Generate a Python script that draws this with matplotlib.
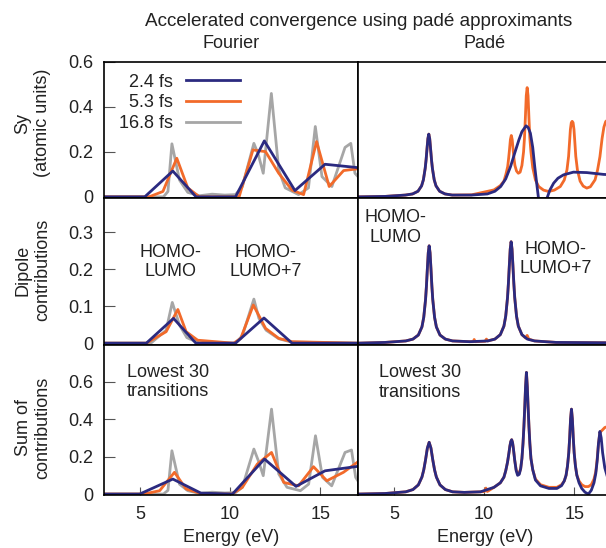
import matplotlib
matplotlib.use("Agg")
import matplotlib.pyplot as plt

plt.rcParams['font.family'] = ['Liberation Sans', 'DejaVu Sans']
plt.rcParams['font.size'] = 13

NAVY = '#2b2a80'
ORANGE = '#f26a2a'
GREY = '#a6a6a6'
TXT = '#222222'

# ---- Fourier, Sy ----
f_sy_e_24 = [3.0, 5.26, 6.82, 8.11, 10.3, 11.9, 13.6, 15.27, 17.1]
f_sy_v_24 = [0, 0, 0.115, 0, 0, 0.249, 0.028, 0.145, 0.13]
f_sy_e_53 = [3.0, 5.5, 6.27, 7.04, 7.65, 8.3, 10.5, 11.27, 11.97, 12.7, 13.44,
             14.08, 14.8, 15.5, 16.3, 17.1]
f_sy_v_53 = [0, 0, 0.024, 0.172, 0.04, 0, 0, 0.209, 0.201, 0.105, 0.03,
             0.01, 0.246, 0.046, 0.117, 0.125]
f_sy_e_168 = [3.0, 6.3, 6.55, 6.77, 7.19, 7.65, 8.3, 9.0, 9.7, 10.3, 10.68, 11.32,
              11.56, 11.84, 12.29, 12.7, 13.06, 13.8, 14.35, 14.73, 15.1, 15.65,
              16.38, 16.7, 16.93, 17.1]
f_sy_v_168 = [0, 0, 0.024, 0.236, 0.075, 0.02, 0.005, 0.012, 0.008, 0.01, 0.046, 0.238,
              0.19, 0.105, 0.46, 0.12, 0.04, 0.01, 0.04, 0.313, 0.09, 0.046,
              0.22, 0.238, 0.105, 0.09]

# ---- Pade, Sy ----
p_sy_e_24 = [3.0, 4.5, 5.63, 6.03, 6.33, 6.53, 6.63, 6.73, 6.78, 6.83, 6.88, 6.93, 6.98,
             7.03, 7.08, 7.13, 7.23, 7.33, 7.53, 7.83, 8.23, 9.3, 10.18, 10.6, 10.92, 11.2,
             11.47, 11.7, 11.93, 12.1, 12.33, 12.45, 12.57, 12.7, 12.81, 12.92, 13.03,
             13.25, 13.46, 13.65, 13.86, 14.1, 14.41, 14.96, 15.7, 16.62, 17.1]
p_sy_v_24 = [0, 0.002, 0.008, 0.013, 0.025, 0.049, 0.076, 0.127, 0.165, 0.213, 0.259, 0.279, 0.259,
             0.213, 0.165, 0.127, 0.076, 0.049, 0.025, 0.013, 0.008, 0.008, 0.013, 0.025, 0.046, 0.08,
             0.135, 0.195, 0.253, 0.29, 0.316, 0.308, 0.283, 0.22, 0.135, 0.06, -0.013,
             -0.06, -0.013, 0.03, 0.061, 0.083, 0.098, 0.11, 0.108, 0.10, 0.098]
p_sy_e_53 = [3.0, 4.5, 5.63, 6.03, 6.33, 6.53, 6.63, 6.73, 6.78, 6.83, 6.88, 6.93, 6.98,
             7.03, 7.08, 7.13, 7.23, 7.33, 7.53, 7.83, 8.23, 9.3, 10.55, 10.9, 11.1, 11.21,
             11.31, 11.36, 11.41, 11.46, 11.51, 11.56, 11.61, 11.66, 11.71, 11.8, 11.9, 12.0,
             12.1, 12.19, 12.24, 12.29, 12.34, 12.39, 12.44, 12.49, 12.54, 12.6, 12.7, 12.85,
             13.03, 13.3, 13.58, 13.9, 14.23, 14.45, 14.6, 14.69, 14.74, 14.79, 14.84, 14.89,
             14.94, 14.99, 15.04, 15.09, 15.18, 15.33, 15.5, 15.7, 15.9, 16.16, 16.3, 16.43,
             16.55, 16.65, 16.75, 16.9, 17.1]
p_sy_v_53 = [0, 0.002, 0.008, 0.013, 0.025, 0.049, 0.076, 0.127, 0.165, 0.213, 0.259, 0.279, 0.259,
             0.213, 0.165, 0.127, 0.076, 0.049, 0.025, 0.013, 0.008, 0.009, 0.031, 0.05, 0.07, 0.1,
             0.135, 0.17, 0.21, 0.255, 0.273, 0.255, 0.21, 0.17, 0.14, 0.115, 0.105, 0.11,
             0.14, 0.2, 0.26, 0.35, 0.45, 0.486, 0.45, 0.35, 0.26, 0.2, 0.13, 0.075,
             0.046, 0.03, 0.024, 0.03, 0.046, 0.075, 0.12, 0.18, 0.24, 0.3, 0.33, 0.336,
             0.33, 0.3, 0.24, 0.18, 0.12, 0.07, 0.048, 0.039, 0.045, 0.076, 0.12, 0.179,
             0.26, 0.31, 0.335, 0.345, 0.34]

# ---- Fourier, dipole contributions ----
f_dp_e_24 = [3.0, 5.35, 6.86, 8.1, 10.3, 11.88, 13.44, 17.1]
f_dp_v_24 = [0, 0, 0.067, 0, 0, 0.068, 0, 0]
f_dp_e_53 = [3.0, 5.35, 6.45, 7.1, 7.56, 8.2, 10.2, 10.59, 11.29, 11.97, 12.7, 13.44, 17.1]
f_dp_v_53 = [0, 0, 0.031, 0.091, 0.031, 0.008, 0, 0.013, 0.103, 0.04, 0.013, 0.004, 0]
f_dp_e_168 = [3.0, 5.6, 6.45, 6.79, 7.19, 7.6, 8.3, 10.3, 10.68, 11.32, 11.6, 12.0, 12.7, 13.4, 17.1]
f_dp_v_168 = [0, 0, 0.035, 0.11, 0.049, 0.015, 0, 0, 0.02, 0.119, 0.067, 0.035, 0.012, 0.003, 0]

# ---- Pade, dipole contributions ----
p_dp_e_24 = [3.0, 4.5, 5.65, 6.05, 6.35, 6.55, 6.65, 6.75, 6.8, 6.85, 6.9, 6.95, 7.0, 7.05,
             7.1, 7.15, 7.25, 7.35, 7.55, 7.85, 8.25, 9.2, 10.2, 10.6, 10.9, 11.1, 11.2, 11.3,
             11.35, 11.4, 11.45, 11.5, 11.55, 11.6, 11.65, 11.7, 11.8, 11.9, 12.1, 12.4, 12.8,
             14.0, 17.1]
p_dp_v_24 = [0, 0.002, 0.006, 0.011, 0.022, 0.044, 0.07, 0.118, 0.155, 0.201, 0.244, 0.263, 0.244, 0.201,
             0.155, 0.118, 0.07, 0.044, 0.022, 0.011, 0.006, 0.004, 0.006, 0.011, 0.023, 0.046, 0.073, 0.123,
             0.162, 0.209, 0.254, 0.274, 0.254, 0.209, 0.162, 0.123, 0.073, 0.046, 0.023, 0.011, 0.006,
             0.002, 0.001]
p_dp_e_53 = [3.0, 4.5, 5.65, 6.05, 6.35, 6.55, 6.65, 6.75, 6.8, 6.85, 6.9, 6.95, 7.0, 7.05,
             7.1, 7.15, 7.25, 7.35, 7.55, 7.85, 8.25, 9.2, 9.4, 9.45, 9.5, 10.05, 10.13, 10.2,
             10.6, 10.9, 11.1, 11.2, 11.3, 11.35, 11.4, 11.45, 11.5, 11.55, 11.6, 11.65, 11.7,
             11.8, 11.9, 12.1, 12.3, 12.39, 12.48, 12.8, 14.0, 17.1]
p_dp_v_53 = [0, 0.002, 0.006, 0.011, 0.022, 0.044, 0.07, 0.118, 0.155, 0.201, 0.244, 0.263, 0.244, 0.201,
             0.155, 0.118, 0.07, 0.044, 0.022, 0.011, 0.006, 0.004, 0.004, 0.01, 0.004, 0.005, 0.011, 0.006,
             0.011, 0.023, 0.046, 0.073, 0.123, 0.162, 0.209, 0.254, 0.274, 0.254, 0.209, 0.162, 0.123,
             0.073, 0.046, 0.023, 0.014, 0.021, 0.011, 0.006, 0.002, 0.001]

# ---- Fourier, sum of contributions ----
f_sm_e_24 = [3.0, 4.98, 6.82, 8.38, 10.13, 11.91, 13.66, 15.27, 17.1]
f_sm_v_24 = [0, 0, 0.08, 0.005, 0, 0.187, 0.041, 0.124, 0.148]
f_sm_e_53 = [3.0, 5.2, 6.09, 6.91, 7.56, 8.48, 10.1, 10.68, 11.51, 12.3, 12.98, 13.8,
             14.63, 15.37, 16.29, 17.1]
f_sm_v_53 = [0, 0, 0.018, 0.116, 0.027, 0, 0, 0.036, 0.16, 0.222, 0.062, 0.044,
             0.146, 0.071, 0.116, 0.172]
f_sm_e_168 = [3.0, 6.3, 6.55, 6.77, 7.19, 7.65, 8.3, 9.0, 9.7, 10.3, 10.68, 11.32, 11.56,
              11.84, 12.3, 12.7, 13.16, 13.9, 14.36, 14.74, 15.13, 15.64, 16.38, 16.74,
              16.97, 17.1]
f_sm_v_168 = [0, 0, 0.02, 0.231, 0.053, 0.018, 0.004, 0.01, 0.006, 0.008, 0.036, 0.24, 0.18,
              0.098, 0.453, 0.107, 0.036, 0.018, 0.053, 0.311, 0.089, 0.044, 0.222, 0.235,
              0.089, 0.07]

# ---- Pade, sum of contributions ----
p_sm_e_24 = [3.0, 4.5, 5.65, 6.05, 6.35, 6.55, 6.65, 6.75, 6.85, 6.95, 7.05, 7.15, 7.25, 7.35,
             7.55, 7.85, 8.25, 8.9, 9.8, 10.55, 10.9, 11.1, 11.2, 11.3, 11.38, 11.43, 11.48,
             11.53, 11.58, 11.63, 11.7, 11.78, 11.86, 11.95, 12.03, 12.1, 12.16, 12.21, 12.26,
             12.3, 12.35, 12.4, 12.44, 12.49, 12.54, 12.6, 12.7, 12.85, 13.13, 13.6, 14.04,
             14.3, 14.45, 14.55, 14.63, 14.7, 14.75, 14.8, 14.85, 14.9, 14.95, 15.0, 15.07,
             15.15, 15.27, 15.42, 15.6, 15.79, 15.95, 16.1, 16.2, 16.28, 16.35, 16.43, 16.5,
             16.58, 16.7, 16.85, 17.1]
p_sm_v_24 = [0, 0.003, 0.012, 0.024, 0.049, 0.091, 0.129, 0.183, 0.245, 0.276, 0.245, 0.183, 0.129, 0.091,
             0.049, 0.024, 0.012, 0.009, 0.012, 0.036, 0.06, 0.09, 0.124, 0.17, 0.22, 0.255, 0.28,
             0.29, 0.275, 0.24, 0.18, 0.125, 0.1, 0.105, 0.135, 0.19, 0.27, 0.36, 0.47,
             0.57, 0.649, 0.57, 0.47, 0.36, 0.27, 0.19, 0.13, 0.075, 0.044, 0.03, 0.03,
             0.045, 0.07, 0.1, 0.15, 0.22, 0.3, 0.4, 0.453, 0.4, 0.3, 0.22, 0.15,
             0.1, 0.06, 0.03, 0.01, 0.0, 0.02, 0.06, 0.11, 0.18, 0.27, 0.334, 0.3,
             0.22, 0.14, 0.09, 0.05]
p_sm_e_53 = [3.0, 4.5, 5.65, 6.05, 6.35, 6.55, 6.65, 6.75, 6.85, 6.95, 7.05, 7.15, 7.25, 7.35,
             7.55, 7.85, 8.25, 8.9, 9.8, 10.02, 10.1, 10.18, 10.55, 10.9, 11.1, 11.2, 11.3, 11.38,
             11.43, 11.48, 11.53, 11.58, 11.63, 11.7, 11.78, 11.86, 11.95, 12.03, 12.1, 12.16,
             12.21, 12.26, 12.3, 12.35, 12.4, 12.44, 12.49, 12.54, 12.6, 12.7, 12.85, 13.13,
             13.6, 14.04, 14.3, 14.45, 14.55, 14.63, 14.7, 14.75, 14.8, 14.85, 14.9, 14.95,
             15.0, 15.07, 15.15, 15.27, 15.42, 15.6, 15.79, 15.95, 16.1, 16.2, 16.28, 16.35,
             16.43, 16.55, 16.7, 16.85, 17.1]
p_sm_v_53 = [0, 0.003, 0.012, 0.024, 0.049, 0.091, 0.129, 0.183, 0.245, 0.276, 0.245, 0.183, 0.129, 0.091,
             0.049, 0.024, 0.012, 0.009, 0.012, 0.014, 0.032, 0.014, 0.036, 0.06, 0.09, 0.124, 0.17, 0.22,
             0.255, 0.28, 0.29, 0.275, 0.24, 0.18, 0.13, 0.112, 0.112, 0.135, 0.19, 0.27,
             0.36, 0.47, 0.57, 0.649, 0.57, 0.47, 0.36, 0.27, 0.19, 0.13, 0.08, 0.05,
             0.036, 0.036, 0.05, 0.07, 0.1, 0.15, 0.22, 0.3, 0.4, 0.453, 0.4, 0.3,
             0.22, 0.15, 0.1, 0.07, 0.05, 0.04, 0.04, 0.05, 0.08, 0.12, 0.19, 0.27,
             0.33, 0.34, 0.355, 0.36, 0.34]

panels = [
    # (fourier curves, pade curves)
    ([(f_sy_e_168, f_sy_v_168), (f_sy_e_53, f_sy_v_53), (f_sy_e_24, f_sy_v_24)],
     [None, (p_sy_e_53, p_sy_v_53), (p_sy_e_24, p_sy_v_24)]),
    ([(f_dp_e_168, f_dp_v_168), (f_dp_e_53, f_dp_v_53), (f_dp_e_24, f_dp_v_24)],
     [None, (p_dp_e_53, p_dp_v_53), (p_dp_e_24, p_dp_v_24)]),
    ([(f_sm_e_168, f_sm_v_168), (f_sm_e_53, f_sm_v_53), (f_sm_e_24, f_sm_v_24)],
     [None, (p_sm_e_53, p_sm_v_53), (p_sm_e_24, p_sm_v_24)]),
]
labels = ['16.8 fs', '5.3 fs', '2.4 fs']
colors = [GREY, ORANGE, NAVY]

ylims = [(-0.005, 0.6), (-0.005, 0.392), (-0.005, 0.795)]
yticks = [[0, 0.2, 0.4, 0.6], [0, 0.1, 0.2, 0.3], [0, 0.2, 0.4, 0.6]]
yticklabels = [['0', '0.2', '0.4', '0.6'], ['0', '0.1', '0.2', '0.3'], ['0', '0.2', '0.4', '0.6']]
row_pos = [(0.6387, 0.2482), (0.3704, 0.2682), (0.0967, 0.2737)]
col_x = [104 / 606, 358 / 606]
col_w = 254 / 606

fig = plt.figure(figsize=(6.06, 5.48), dpi=100)
axes = []
for r in range(3):
    row_axes = []
    for c in range(2):
        ax = fig.add_axes([col_x[c], row_pos[r][0], col_w, row_pos[r][1]])
        curves = panels[r][c]
        handles = []
        for k, cur in enumerate(curves):
            if cur is None:
                continue
            h, = ax.plot(cur[0], cur[1], color=colors[k], lw=2.0, label=labels[k],
                         solid_joinstyle='round')
            handles.append(h)
        ax.set_xlim(3, 17.1)
        ax.set_ylim(*ylims[r])
        for s in ax.spines.values():
            s.set_linewidth(1.2)
            s.set_color('black')
        ax.tick_params(direction='in', colors='#555555', labelcolor=TXT, labelsize=13,
                       width=0.8)
        if c == 0:
            ax.set_yticks(yticks[r])
            ax.set_yticklabels(yticklabels[r])
            ax.tick_params(axis='y', length=8, pad=8)
        else:
            ax.set_yticks([])
            ax.spines['right'].set_visible(False)
        if r == 2:
            ax.set_xticks([5, 10, 15])
            ax.tick_params(axis='x', length=6, pad=8)
        else:
            ax.set_xticks([])
        if r == 0 and c == 0:
            ax.legend(handles=handles[::-1], loc='upper left', bbox_to_anchor=(0.06, 0.913),
                      frameon=False, markerfirst=False, handlelength=3.0,
                      handletextpad=0.7, labelspacing=0.2, borderpad=0, borderaxespad=0,
                      fontsize=13, labelcolor=TXT)
        row_axes.append(ax)
    axes.append(row_axes)

# annotations
axes[1][0].text(0.26, 0.565, 'HOMO-\nLUMO', transform=axes[1][0].transAxes,
                ha='center', va='center', multialignment='center', color=TXT, fontsize=13)
axes[1][0].text(0.635, 0.565, 'HOMO-\nLUMO+7', transform=axes[1][0].transAxes,
                ha='center', va='center', multialignment='center', color=TXT, fontsize=13)
axes[1][1].text(0.146, 0.80, 'HOMO-\nLUMO', transform=axes[1][1].transAxes,
                ha='center', va='center', multialignment='center', color=TXT, fontsize=13)
axes[1][1].text(0.779, 0.585, 'HOMO-\nLUMO+7', transform=axes[1][1].transAxes,
                ha='center', va='center', multialignment='center', color=TXT, fontsize=13)
axes[2][0].text(0.09, 0.753, 'Lowest 30\ntransitions', transform=axes[2][0].transAxes,
                ha='left', va='center', color=TXT, fontsize=13)
axes[2][1].text(0.083, 0.75, 'Lowest 30\ntransitions', transform=axes[2][1].transAxes,
                ha='left', va='center', color=TXT, fontsize=13)

# titles and labels
W, H = 606, 548
fig.text(359 / W, 1 - 22 / H, 'Accelerated convergence using padé approximants',
         ha='center', va='center', color=TXT, fontsize=13.6)
fig.text(231 / W, 1 - 43 / H, 'Fourier', ha='center', va='center', color=TXT, fontsize=13)
fig.text(485 / W, 1 - 43 / H, 'Padé', ha='center', va='center', color=TXT, fontsize=13)
fig.text(33 / W, 1 - 123 / H, 'Sy\n(atomic units)', rotation=90, ha='center', va='center',
         multialignment='center', color=TXT, fontsize=13)
fig.text(33 / W, 1 - 270 / H, 'Dipole\ncontributions', rotation=90, ha='center', va='center',
         multialignment='center', color=TXT, fontsize=13)
fig.text(33 / W, 1 - 428 / H, 'Sum of\ncontributions', rotation=90, ha='center', va='center',
         multialignment='center', color=TXT, fontsize=13)
fig.text(231 / W, 1 - 538 / H, 'Energy (eV)', ha='center', va='center', color=TXT, fontsize=13)
fig.text(485 / W, 1 - 538 / H, 'Energy (eV)', ha='center', va='center', color=TXT, fontsize=13)

fig.savefig('out.png', dpi=100)
